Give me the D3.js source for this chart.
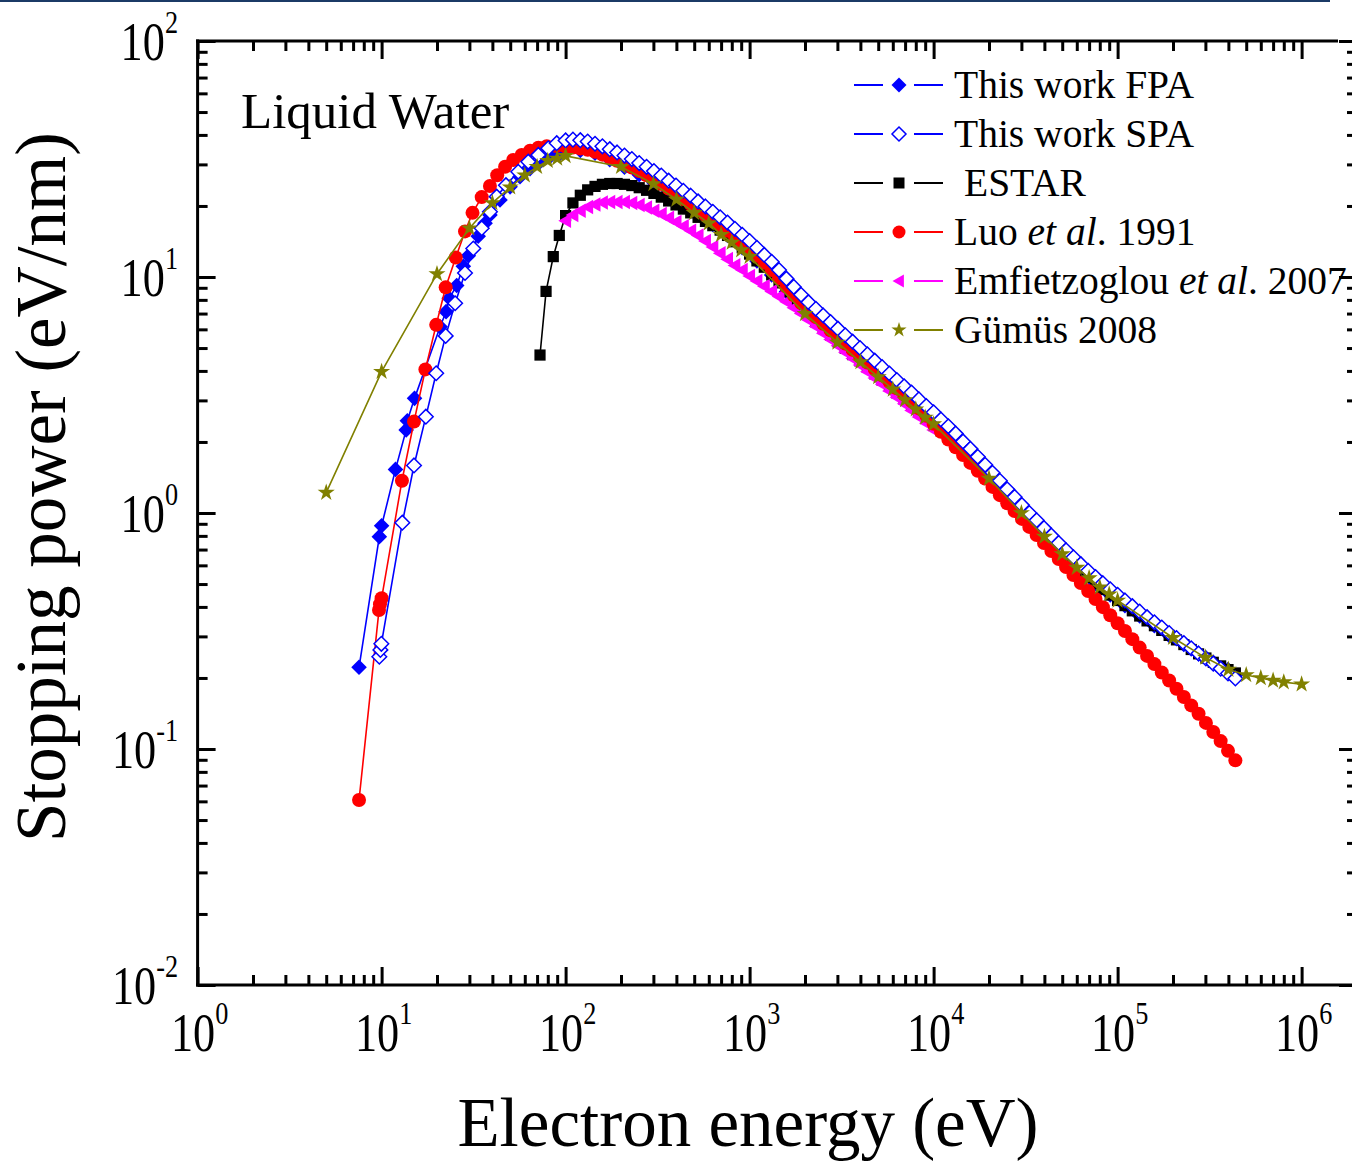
<!DOCTYPE html>
<html>
<head>
<meta charset="utf-8">
<script src="https://cdn.jsdelivr.net/npm/d3@7"></script>
<style>
  body { margin: 0; background: #fff; }
  svg { display: block; }
  text { font-family: "Liberation Serif", "Times New Roman", serif; fill: #000; }
</style>
</head>
<body>
<svg id="chart"></svg>
<script>
// ---- data ----
// shared log-spaced energy grid above 100 eV (eV)
const gridEnergy = [100, 109.6, 120.2, 131.8, 144.5, 158.5, 173.8, 190.5, 208.9, 229.1,
  251.2, 275.4, 302.0, 331.1, 363.1, 398.1, 436.5, 478.6, 524.8, 575.4,
  631.0, 691.8, 758.6, 831.8, 912.0, 1000, 1096, 1202, 1318, 1445,
  1585, 1738, 1905, 2089, 2291, 2512, 2754, 3020, 3311, 3631,
  3981, 4365, 4786, 5248, 5754, 6310, 6918, 7586, 8318, 9120,
  10000, 10965, 12023, 13183, 14454, 15849, 17378, 19055, 20893, 22909,
  25119, 27542, 30200, 33113, 36308, 39811, 43652, 47863, 52481, 57544,
  63096, 69183, 75858, 83176, 91201, 100000, 109648, 120226, 131826, 144544,
  158489, 173780, 190546, 208930, 229087, 251189, 275423, 301995, 331131, 363078,
  398107, 436516];

// This work FPA
const fpaLowE = [7.54, 9.72, 10.0, 11.9, 13.6, 13.8, 15.1, 20.8, 22.4, 23.3, 25.6, 27.8,
  29.6, 33.5, 36.5, 38.8, 44.0, 49.9, 56.5, 64.1, 72.6, 82.3, 93.3];
const fpaLowV = [0.222, 0.794, 0.883, 1.53, 2.25, 2.46, 3.06, 6.15, 7.13, 8.13, 9.2, 11.1,
  12.3, 14.9, 16.9, 18.3, 21.2, 24.1, 26.6, 28.8, 30.8, 32.4, 33.4];
const fpaHighE = [100, 120.2, 144.5, 173.8, 208.9, 251.2, 302.0, 363.1, 436.5, 524.8,
  631.0, 758.6, 912.0, 1096, 1318, 1585, 1905, 2291, 2754, 3311,
  3981, 4786, 5754, 6918, 8318, 10000, 12023, 14454, 17378, 20893,
  25119, 30200, 36308, 43652, 52481, 63096, 75858, 91201, 109648, 131826,
  158489, 190546, 229087, 275423, 331131, 398107, 436516];
const fpaHighV = [34.0, 34.4, 33.5, 31.4, 29.2, 27.1, 25.1, 22.9, 20.7, 18.7,
  16.7, 15.0, 13.3, 11.7, 10.2, 8.67, 7.41, 6.46, 5.68, 4.99,
  4.41, 3.89, 3.44, 3.04, 2.69, 2.38, 2.09, 1.82, 1.57, 1.35,
  1.16, 0.995, 0.859, 0.743, 0.647, 0.568, 0.502, 0.449, 0.405, 0.366,
  0.333, 0.303, 0.277, 0.253, 0.233, 0.217, 0.205];

// This work SPA
const spaLowE = [9.72, 9.85, 9.97, 12.96, 15.0, 17.4, 19.8, 22.3, 25.1, 28.4,
  31.5, 35.0, 38.8, 42.2, 47.4, 55.3, 62.7, 71.1, 80.5, 89.5];
const spaLowV = [0.246, 0.263, 0.279, 0.91, 1.59, 2.56, 3.91, 5.63, 7.74, 10.4,
  13.2, 16.1, 18.9, 21.9, 24.5, 27.9, 30.8, 32.9, 35.1, 36.9];
const spaGridV = [37.9, 38.2, 38.0, 37.5, 36.7, 35.8, 34.8, 33.7, 32.7, 31.6,
  30.4, 29.3, 28.1, 26.9, 25.6, 24.4, 23.2, 22.1, 20.9, 19.9,
  18.9, 17.9, 17.0, 16.0, 15.1, 14.2, 13.3, 12.4, 11.6, 10.7,
  9.84, 9.08, 8.41, 7.82, 7.33, 6.87, 6.44, 6.04, 5.66, 5.32,
  5.00, 4.70, 4.42, 4.15, 3.90, 3.66, 3.44, 3.24, 3.03, 2.84,
  2.67, 2.49, 2.33, 2.17, 2.01, 1.87, 1.73, 1.60, 1.48, 1.37,
  1.26, 1.17, 1.08, 1.00, 0.931, 0.863, 0.802, 0.746, 0.695, 0.649,
  0.607, 0.569, 0.535, 0.504, 0.475, 0.450, 0.426, 0.403, 0.382, 0.362,
  0.344, 0.327, 0.310, 0.295, 0.281, 0.267, 0.254, 0.242, 0.230, 0.219,
  0.209, 0.199];

// ESTAR
const estarLowE = [72.6, 78.3, 85.7, 92.4];
const estarLowV = [4.67, 8.69, 12.2, 15.0];
const estarGridV = [18.2, 20.6, 22.2, 23.4, 24.2, 24.7, 24.9, 24.9, 24.7, 24.4,
  23.9, 23.3, 22.6, 21.8, 21.0, 20.2, 19.4, 18.7, 17.9, 17.2,
  16.5, 15.8, 15.0, 14.1, 13.3, 12.5, 11.7, 11.0, 10.2, 9.44,
  8.67, 8.00, 7.41, 6.89, 6.46, 6.05, 5.68, 5.32, 4.99, 4.69,
  4.41, 4.14, 3.89, 3.66, 3.44, 3.23, 3.04, 2.86, 2.69, 2.53,
  2.38, 2.23, 2.09, 1.95, 1.82, 1.69, 1.57, 1.45, 1.35, 1.25,
  1.16, 1.07, 0.995, 0.925, 0.859, 0.798, 0.743, 0.693, 0.647, 0.605,
  0.568, 0.533, 0.502, 0.474, 0.449, 0.426, 0.405, 0.385, 0.366, 0.349,
  0.333, 0.318, 0.303, 0.290, 0.277, 0.264, 0.253, 0.243, 0.233, 0.225,
  0.217, 0.210];

// Luo et al. 1991
const luoLowE = [7.54, 9.68, 9.8, 10.0, 12.9, 15.0, 17.3, 19.8, 22.3, 25.3, 28.4,
  31.2, 35.0, 38.8, 42.5, 46.9, 51.9, 57.7, 64.1, 71.1, 79.0, 89.0];
const luoLowV = [0.0608, 0.388, 0.411, 0.435, 1.37, 2.44, 4.06, 6.27, 9.04, 12.1, 15.6,
  18.7, 21.8, 24.3, 27.0, 29.3, 31.3, 32.9, 34.3, 35.3, 35.8, 35.9];
const luoGridV = [35.7, 35.4, 35.0, 34.6, 33.9, 33.0, 32.1, 31.1, 30.2, 29.1,
  28.1, 27.0, 25.9, 24.8, 23.7, 22.5, 21.4, 20.4, 19.3, 18.3,
  17.4, 16.6, 15.7, 14.8, 13.9, 13.1, 12.3, 11.5, 10.7, 9.89,
  9.08, 8.37, 7.76, 7.21, 6.76, 6.34, 5.94, 5.57, 5.22, 4.91,
  4.61, 4.34, 4.07, 3.83, 3.60, 3.38, 3.18, 2.98, 2.78, 2.58,
  2.39, 2.21, 2.05, 1.90, 1.76, 1.63, 1.51, 1.40, 1.29, 1.19,
  1.10, 1.02, 0.944, 0.873, 0.807, 0.746, 0.690, 0.638, 0.590, 0.546,
  0.505, 0.467, 0.432, 0.399, 0.369, 0.341, 0.316, 0.292, 0.269, 0.248,
  0.229, 0.211, 0.195, 0.180, 0.166, 0.153, 0.141, 0.129, 0.118, 0.108,
  0.0982, 0.0895];

// Emfietzoglou et al. 2007 (grid points from 100 eV to 10 keV)
const emfGridV = [17.3, 18.3, 19.1, 19.8, 20.3, 20.7, 20.8, 20.8, 20.8, 20.6,
  20.2, 19.7, 19.1, 18.5, 17.8, 17.1, 16.4, 15.7, 15.0, 14.2,
  13.4, 12.6, 11.9, 11.2, 10.7, 10.1, 9.62, 9.14, 8.69, 8.26,
  7.85, 7.41, 7.01, 6.58, 6.17, 5.78, 5.43, 5.11, 4.80, 4.51,
  4.24, 3.97, 3.73, 3.51, 3.29, 3.09, 2.90, 2.72, 2.55, 2.40,
  2.25];

// Gümüs 2008
const gumusE = [5, 10, 20, 30, 40, 50, 60, 70, 80, 90,
  100, 200, 300, 400, 500, 600, 700, 800, 900, 1000,
  2000, 3000, 4000, 5000, 6000, 7000, 8000, 9000, 10000,
  20000, 30000, 40000, 50000, 60000, 70000, 80000, 90000, 100000,
  200000, 300000, 400000, 500000, 600000, 700000, 800000, 1000000];
const gumusV = [1.22, 3.97, 10.3, 16.1, 20.6, 24.0, 27.0, 29.3, 31.1, 31.8,
  32.6, 29.3, 24.8, 21.3, 18.7, 16.9, 15.1, 14.0, 13.0, 12.2,
  6.98, 5.28, 4.36, 3.77, 3.34, 3.01, 2.75, 2.54, 2.38,
  1.40, 1.00, 0.794, 0.670, 0.587, 0.530, 0.485, 0.453, 0.426,
  0.296, 0.244, 0.217, 0.206, 0.200, 0.195, 0.192, 0.188];

const xTickExp = [0, 1, 2, 3, 4, 5, 6];
const yTickExp = [-2, -1, 0, 1, 2];

// ---- layout ----
const W = 1352, H = 1161;
const svg = d3.select('#chart').attr('width', W).attr('height', H);

const x = d3.scaleLog().domain([1, 2e6]).range([197.6, 1357]);
const y = d3.scaleLog().domain([0.01, 100]).range([985, 41]);

// thin rule at the very top of the page
svg.append('rect').attr('x', 0).attr('y', 0).attr('width', 1330).attr('height', 2)
  .attr('fill', '#1b3a66');

const shapes = {
  diamond: r => `M0,${-r}L${r},0L0,${r}L${-r},0Z`,
  square: r => `M${-r},${-r}H${r}V${r}H${-r}Z`,
  circle: r => d3.symbol(d3.symbolCircle, Math.PI * r * r)(),
  triLeft: r => `M${-r},0L${r * 0.75},${-r}L${r * 0.75},${r}Z`,
  star: r => d3.symbol(d3.symbolStar, r * r / 0.8908)()
};

const series = {
  fpa:   { e: fpaLowE.concat(fpaHighE), v: fpaLowV.concat(fpaHighV), color: '#0000ff', shape: 'diamond', r: 7.8, fill: '#0000ff' },
  spa:   { e: spaLowE.concat(gridEnergy), v: spaLowV.concat(spaGridV), color: '#0000ff', shape: 'diamond', r: 7.3, fill: '#ffffff', stroke: '#0000ff' },
  estar: { e: estarLowE.concat(gridEnergy), v: estarLowV.concat(estarGridV), color: '#000000', shape: 'square', r: 5.6, fill: '#000000' },
  luo:   { e: luoLowE.concat(gridEnergy), v: luoLowV.concat(luoGridV), color: '#ff0000', shape: 'circle', r: 7, fill: '#ff0000' },
  emf:   { e: gridEnergy.slice(0, emfGridV.length), v: emfGridV, color: '#ff00ff', shape: 'triLeft', r: 7.3, fill: '#ff00ff' },
  gumus: { e: gumusE, v: gumusV, color: '#808000', shape: 'star', r: 9, fill: '#808000' }
};

const line = d3.line().x(d => x(d[0])).y(d => y(d[1]));
const plot = svg.append('g');

['fpa', 'estar', 'emf', 'luo', 'spa', 'gumus'].forEach(key => {
  const s = series[key];
  const pts = d3.zip(s.e, s.v);
  plot.append('path')
    .attr('d', line(pts))
    .attr('fill', 'none')
    .attr('stroke', s.color)
    .attr('stroke-width', 1.6);
  plot.append('g').selectAll('path')
    .data(pts)
    .join('path')
    .attr('transform', d => `translate(${x(d[0])},${y(d[1])})`)
    .attr('d', shapes[s.shape](s.r))
    .attr('fill', s.fill)
    .attr('stroke', s.stroke || 'none')
    .attr('stroke-width', 1.5);
});

// ---- axes: inward ticks on all four sides ----
const xMajor = xTickExp.map(k => Math.pow(10, k));
const xMinor = [];
xTickExp.slice(0, -1).forEach(k => d3.range(2, 10).forEach(m => xMinor.push(m * Math.pow(10, k))));
const yMajor = yTickExp.map(k => Math.pow(10, k));
const yMinor = [];
yTickExp.slice(0, -1).forEach(k => d3.range(2, 10).forEach(m => yMinor.push(m * Math.pow(10, k))));

function tickAxis(axisFn, scale, values, size, transform) {
  const g = svg.append('g').attr('transform', transform)
    .call(axisFn(scale).tickValues(values).tickSizeInner(-size).tickSizeOuter(0).tickFormat(''));
  g.select('.domain').remove();
  g.selectAll('.tick line').attr('stroke', '#000').attr('stroke-width', 3);
}
tickAxis(d3.axisBottom, x, xMajor, 18, 'translate(0,985)');
tickAxis(d3.axisBottom, x, xMinor, 10, 'translate(0,985)');
tickAxis(d3.axisTop, x, xMajor, 18, 'translate(0,41)');
tickAxis(d3.axisTop, x, xMinor, 10, 'translate(0,41)');
tickAxis(d3.axisLeft, y, yMajor, 18, 'translate(197.6,0)');
tickAxis(d3.axisLeft, y, yMinor, 10, 'translate(197.6,0)');
tickAxis(d3.axisRight, y, yMajor, 18, 'translate(1357,0)');
tickAxis(d3.axisRight, y, yMinor, 10, 'translate(1357,0)');

// frame
const frame = svg.append('g').attr('stroke', '#000').attr('stroke-width', 3).attr('fill', 'none');
frame.append('line').attr('x1', 197.6).attr('x2', 197.6).attr('y1', 39.5).attr('y2', 986.5);
frame.append('line').attr('x1', 196).attr('x2', 1357).attr('y1', 985).attr('y2', 985);
frame.append('line').attr('x1', 196).attr('x2', 1338).attr('y1', 41).attr('y2', 41);
frame.append('line').attr('x1', 1357).attr('x2', 1357).attr('y1', 41).attr('y2', 985);

// tick labels 10^k (narrow serif digits)
function powLabel(px, py, exp, anchor) {
  const g = svg.append('g').attr('transform', `translate(${px},${py}) scale(0.82,1)`);
  const t = g.append('text').attr('text-anchor', anchor).style('font-size', '54px');
  t.append('tspan').text('10');
  t.append('tspan').attr('dy', -27).style('font-size', '32px').text(String(exp));
}
xTickExp.forEach(k => powLabel(x(Math.pow(10, k)) + 2, 1051, k, 'middle'));
yTickExp.forEach(k => powLabel(178, y(Math.pow(10, k)) + 19, k, 'end'));

// axis titles
svg.append('text')
  .attr('x', 748).attr('y', 1146)
  .attr('text-anchor', 'middle')
  .style('font-size', '69px')
  .text('Electron energy (eV)');
svg.append('text')
  .attr('transform', 'translate(65,487) rotate(-90)')
  .attr('text-anchor', 'middle')
  .style('font-size', '71px')
  .text('Stopping power (eV/nm)');

svg.append('text')
  .attr('x', 241).attr('y', 128)
  .style('font-size', '51px')
  .text('Liquid Water');

// ---- legend ----
const legendItems = [
  { key: 'fpa', parts: [['This work FPA']] },
  { key: 'spa', parts: [['This work SPA']] },
  { key: 'estar', parts: [['ESTAR']], dx: 10 },
  { key: 'luo', parts: [['Luo '], ['et al', true], ['. 1991']] },
  { key: 'emf', parts: [['Emfietzoglou '], ['et al', true], ['. 2007']] },
  { key: 'gumus', parts: [['Gümüs 2008']] }
];
const legendR = { fpa: 7.5, spa: 7, estar: 5.5, luo: 6.5, emf: 6.5, gumus: 8 };
const legend = svg.append('g');
legendItems.forEach((it, i) => {
  const s = series[it.key];
  const cy = 85 + i * 49;
  const row = legend.append('g');
  row.append('line').attr('x1', 854).attr('x2', 883).attr('y1', cy).attr('y2', cy)
    .attr('stroke', s.color).attr('stroke-width', 2);
  row.append('line').attr('x1', 914).attr('x2', 943).attr('y1', cy).attr('y2', cy)
    .attr('stroke', s.color).attr('stroke-width', 2);
  row.append('path').attr('transform', `translate(899,${cy})`)
    .attr('d', shapes[s.shape](legendR[it.key]))
    .attr('fill', s.fill).attr('stroke', s.stroke || 'none').attr('stroke-width', 1.5);
  const t = row.append('text').attr('x', 954 + (it.dx || 0)).attr('y', cy + 13).style('font-size', '39.5px');
  it.parts.forEach(p => t.append('tspan').style('font-style', p[1] ? 'italic' : null).text(p[0]));
});
</script>
</body>
</html>
